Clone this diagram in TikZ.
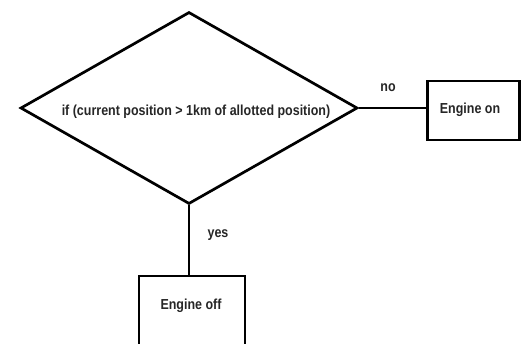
\documentclass[tikz,border=0pt]{standalone}
\usepackage{fontspec}
\setmainfont{Liberation Sans}
\usetikzlibrary{shapes.geometric}
\begin{document}
\begin{tikzpicture}[x=1pt,y=-1pt,
  connector/.style={draw=black, line width=2.7pt},
  txt/.style={font=\bfseries\fontsize{14.5}{16}\selectfont, xscale=0.86, inner sep=0pt, text=black!85},
  boxshape/.style={draw, line width=2.7pt, rectangle, inner sep=0pt}]
\clip (0,0) rectangle (521,343);
\fill[white] (0,0) rectangle (521,343);
\node[draw, line width=2.7pt, diamond, minimum width=337pt, minimum height=192pt, inner sep=0pt] (dec) at (189,108) {};
\node[txt] (dectext) at (196,112) {if (current position > 1km of allotted position)};
\node[boxshape, minimum width=92pt, minimum height=59pt] (on) at (473.5,110.5) {};
\node[txt] (ontext) at (470,110) {Engine on};
\node[boxshape, minimum width=106pt, minimum height=90pt] (off) at (192,321) {};
\node[txt] (offtext) at (191,306) {Engine off};
\path[connector] (dec.east) -- (dec.east -| on.west);
\path[connector] (dec.south) -- (dec.south |- off.north);
\node[txt] (no) at (388,88) {no};
\node[txt] (yes) at (218,235) {yes};
\end{tikzpicture}
\end{document}
